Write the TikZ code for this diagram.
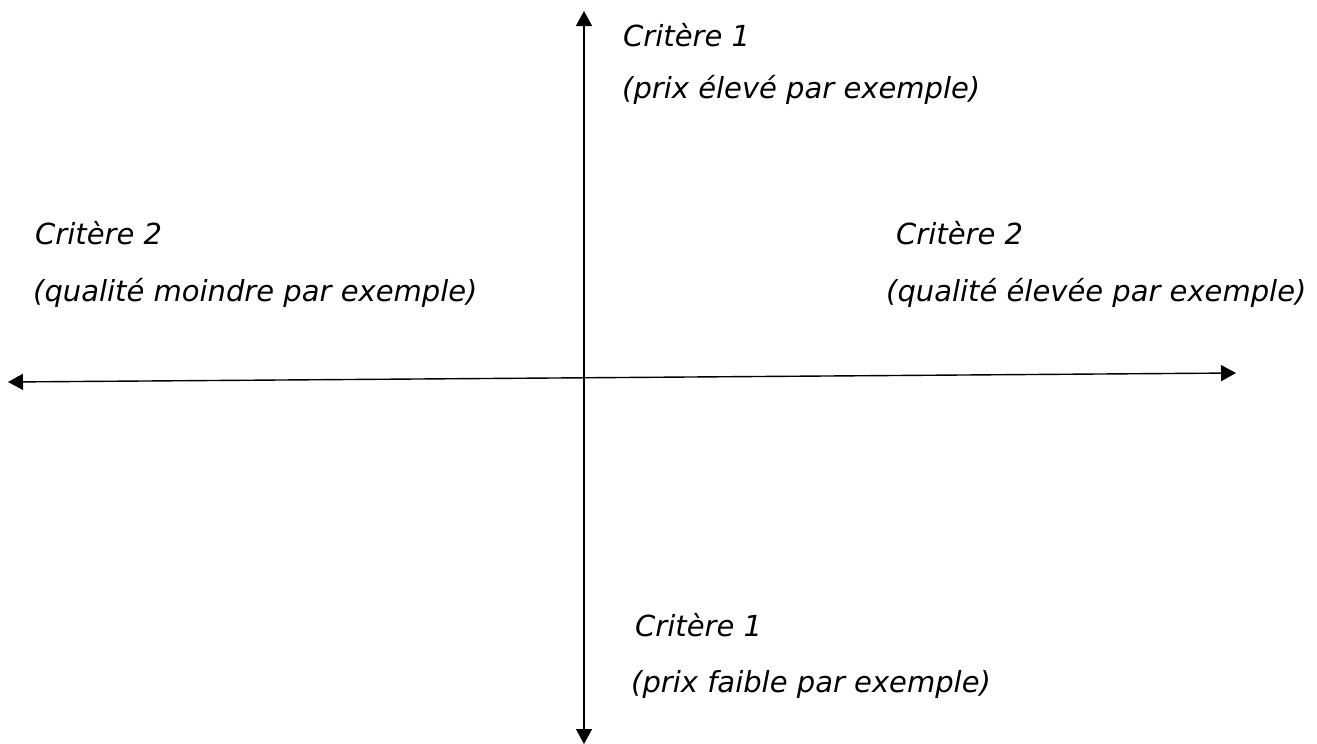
\documentclass[tikz,border=0pt]{standalone}
\usepackage{fontspec}
\setmainfont{DejaVu Sans}
\usetikzlibrary{arrows.meta}
\begin{document}
\begin{tikzpicture}[x=1pt,y=-1pt,
    axis/.style={line width=1.4pt, {Triangle[length=15pt,width=16pt]}-{Triangle[length=15pt,width=16pt]}},
    lbl/.style={anchor=base west, inner sep=0pt, font=\fontsize{29}{35}\selectfont\itshape}]
  \useasboundingbox (0,0) rectangle (1317,744);
  % axis end points
  \coordinate (ytop) at (584,11);
  \coordinate (ybot) at (584,744);
  \coordinate (xleft) at (8,382);
  \coordinate (xright) at (1236,373);
  \draw[axis] (xleft) -- (xright);
  \draw[axis] (ybot) -- (ytop);
  % labels at the four ends
  \node[lbl] (t1) at (623,46) {Critère 1};
  \node[lbl] (t2) at (622,98) {(prix élevé par exemple)};
  \node[lbl] (l1) at (35,244) {Critère 2};
  \node[lbl] (l2) at (33,301) {(qualité moindre par exemple)};
  \node[lbl] (r1) at (896,244) {Critère 2};
  \node[lbl] (r2) at (886,301) {(qualité élevée par exemple)};
  \node[lbl] (b1) at (635,636) {Critère 1};
  \node[lbl] (b2) at (631,692) {(prix faible par exemple)};
\end{tikzpicture}
\end{document}
